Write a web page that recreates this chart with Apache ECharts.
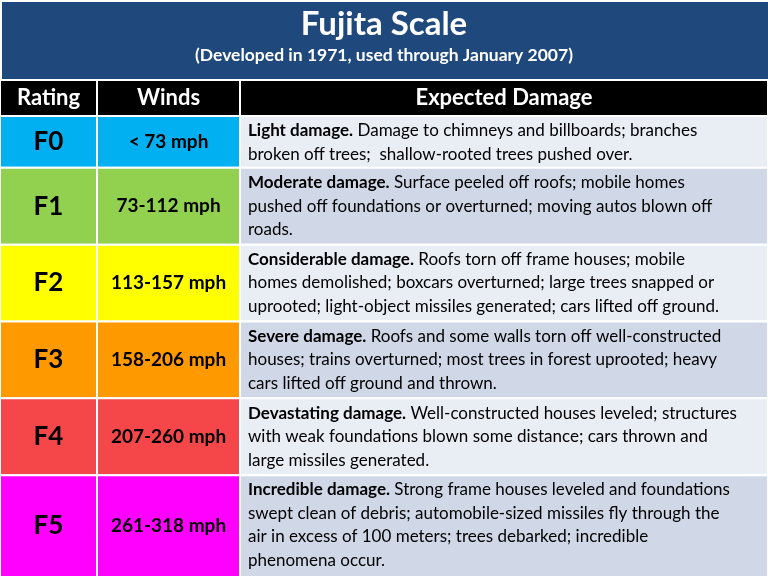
<!DOCTYPE html>
<html><head><meta charset="utf-8">
<script src="https://cdn.jsdelivr.net/npm/echarts@6/dist/echarts.min.js"></script>
<style>html,body{margin:0;padding:0;background:#fff}#c{width:768px;height:577px}</style>
</head><body><div id="c"></div>
<script>
// table content
var headers = ['Rating', 'Winds', 'Expected Damage'];
var ratings = ['F0', 'F1', 'F2', 'F3', 'F4', 'F5'];
var winds = ['< 73 mph', '73-112 mph', '113-157 mph', '158-206 mph', '207-260 mph', '261-318 mph'];
var leads = ['Light damage.', 'Moderate damage.', 'Considerable damage.', 'Severe damage.', 'Devastating damage.', 'Incredible damage.'];
var damage = [
	' Damage to chimneys and billboards; branches\nbroken off trees;  shallow-rooted trees pushed over.',
	' Surface peeled off roofs; mobile homes\npushed off foundations or overturned; moving autos blown off\nroads.',
	' Roofs torn off frame houses; mobile\nhomes demolished; boxcars overturned; large trees snapped or\nuprooted; light-object missiles generated; cars lifted off ground.',
	' Roofs and some walls torn off well-constructed\nhouses; trains overturned; most trees in forest uprooted; heavy\ncars lifted off ground and thrown.',
	' Well-constructed houses leveled; structures\nwith weak foundations blown some distance; cars thrown and\nlarge missiles generated.',
	' Strong frame houses leveled and foundations\nswept clean of debris; automobile-sized missiles fly through the\nair in excess of 100 meters; trees debarked; incredible\nphenomena occur.'
];
var rowLines = [2, 3, 3, 3, 3, 4];
var colEdges = [0, 97, 240, 768];
var ratingColors = ['#00B0F0', '#92D050', '#FFFF00', '#FF9900', '#F5474A', '#FF00FF'];
var damageColors = ['#E9EDF4', '#D0D8E8'];

var headerH = 36;
var rowH = rowLines.map(function (n) { return n * 25 + 2; });
var tops = [headerH];
for (var i = 0; i < rowH.length; i++) tops.push(tops[i] + rowH[i]);
var total = tops[tops.length - 1];

var data = [[-1, 0, headerH]];
ratings.forEach(function (r, i) { data.push([i, tops[i], tops[i + 1]]); });

var font = 'Lato, "Open Sans", sans-serif';

function renderItem(params, api) {
	var idx = api.value(0);
	var y0 = api.coord([0, api.value(1)])[1];
	var y1 = api.coord([0, api.value(2)])[1];
	var xs = colEdges.map(function (x) { return api.coord([x, 0])[0]; });
	var children = [];
	for (var c = 0; c < 3; c++) {
		var fill, style;
		if (idx < 0) {
			fill = '#000';
			style = { text: headers[c], fill: '#fff', font: 'bold 22px ' + font, align: 'center', verticalAlign: 'middle', x: (xs[c] + xs[c + 1]) / 2, y: (y0 + y1) / 2 };
		} else if (c === 0) {
			fill = ratingColors[idx];
			style = { text: ratings[idx], fill: '#000', font: 'bold 26px ' + font, align: 'center', verticalAlign: 'middle', x: (xs[0] + xs[1]) / 2, y: (y0 + y1) / 2 };
		} else if (c === 1) {
			fill = ratingColors[idx];
			style = { text: winds[idx], fill: '#000', font: 'bold 19px ' + font, align: 'center', verticalAlign: 'middle', x: (xs[1] + xs[2]) / 2, y: (y0 + y1) / 2 };
		} else {
			fill = damageColors[idx % 2];
			style = {
				text: '{b|' + leads[idx] + '}' + damage[idx], fill: '#000', font: '17px ' + font,
				lineHeight: 23.5, align: 'left', verticalAlign: 'top', x: xs[2] + 8, y: y0 + 3,
				rich: { b: { font: 'bold 17px ' + font, lineHeight: 23.5 } }
			};
		}
		children.push({
			type: 'rect',
			shape: { x: xs[c], y: y0, width: xs[c + 1] - xs[c], height: y1 - y0 },
			style: { fill: fill, stroke: '#fff', lineWidth: 2 }
		});
		children.push({ type: 'text', style: style });
	}
	return { type: 'group', children: children };
}

var chart = echarts.init(document.getElementById('c'));
chart.setOption({
	backgroundColor: '#fff',
	graphic: [{
		type: 'rect', left: 0, top: 0, z: -1,
		shape: { width: 768, height: 80 },
		style: { fill: '#1F497D', stroke: '#fff', lineWidth: 2 }
	}],
	title: {
		text: 'Fujita Scale',
		subtext: '(Developed in 1971, used through January 2007)',
		left: 'center', top: 3, itemGap: 5,
		textStyle: { color: '#fff', fontFamily: font, fontWeight: 'bold', fontSize: 33 },
		subtextStyle: { color: '#fff', fontFamily: font, fontWeight: 'bold', fontSize: 17.5 }
	},
	grid: { left: 0, right: 0, top: 80, bottom: 0 },
	xAxis: { type: 'value', min: 0, max: 768, show: false },
	yAxis: { type: 'value', min: 0, max: total, inverse: true, show: false },
	series: [{
		type: 'custom',
		renderItem: renderItem,
		data: data,
		encode: { y: [1, 2] },
		animation: false
	}]
});
</script>
</body></html>
